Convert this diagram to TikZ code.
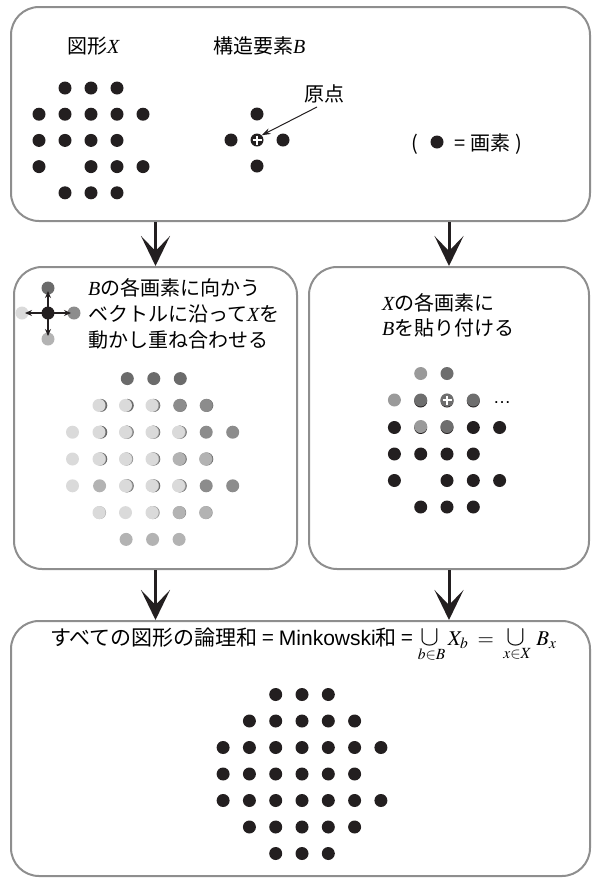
\documentclass[tikz,border=0pt]{standalone}
\usepackage{mathptmx}
\usepackage[no-math]{fontspec}
\setmainfont{Noto Sans CJK JP}
\newfontfamily\tms{Liberation Serif}
\newfontfamily\lsans{Liberation Sans}
\usetikzlibrary{arrows.meta,calc}
\definecolor{boxgray}{HTML}{8E8E8E}
\definecolor{ink}{HTML}{231F20}
\definecolor{gUp}{HTML}{6B6B6B}
\definecolor{gRight}{HTML}{8C8C8C}
\definecolor{gDown}{HTML}{B3B3B3}
\definecolor{gLeft}{HTML}{DADADA}
\definecolor{gA}{HTML}{9A9A9A}
\definecolor{gB}{HTML}{6E6E6E}
\newcommand\itX{{\tms\itshape X}}
\newcommand\itB{{\tms\itshape B}}
\newcommand\bigcupsym{\mathop{\scalebox{1.35}{$\cup$}}\limits}
\begin{document}
\begin{tikzpicture}[x=1pt,y=-1pt,
  panel/.style={draw=boxgray,line width=2pt,rounded corners=28pt,inner sep=0pt},
  bigarrow/.style={line width=3pt,draw=ink,-{Stealth[length=30pt,width=29pt,inset=15pt]}},
  smallarrow/.style={line width=1.2pt,draw=ink,-{Stealth[length=7pt,width=6pt]}},
  txt/.style={font=\fontsize{20}{24}\selectfont,inner sep=0pt,anchor=base west},
  dotn/.style={circle,minimum size=13pt,inner sep=0pt},
  plus/.style={draw=white,line width=1.4pt}]
\useasboundingbox (0,0) rectangle (592,879);

% panels
\node[panel,minimum width=579pt,minimum height=214pt] (top) at (300.5,114) {};
\node[panel,minimum width=283pt,minimum height=302pt] (L) at (155.5,418) {};
\node[panel,minimum width=280pt,minimum height=302pt] (R) at (449,418) {};
\node[panel,minimum width=579pt,minimum height=255pt] (bot) at (300.5,748.5) {};

% big arrows
\draw[bigarrow] (top.south -| L.north) -- (L.north);
\draw[bigarrow] (top.south -| R.north) -- (R.north);
\draw[bigarrow] (L.south) -- (L.south |- bot.north);
\draw[bigarrow] (R.south) -- (R.south |- bot.north);

% ---- top panel ----
\node[txt] (tX) at (67,53) {図形\itX};
\node[txt] (tB) at (213,53) {構造要素\itB};
\foreach \i/\j in {1/0,2/0,3/0,0/1,1/1,2/1,3/1,4/1,0/2,1/2,2/2,3/2,0/3,2/3,3/3,4/3,1/4,2/4,3/4}
  {\fill[ink] ({39+26*\i},{88+26.2*\j}) circle (6.5pt);}
\foreach \p in {(257,114),(231,140),(283,140),(257,166)} {\fill[ink] \p circle (6.5pt);}
\node[dotn,fill=ink] (Bo) at (257,140) {};
\draw[plus] (252.5,140) -- (261.5,140) (257,135.5) -- (257,144.5);
\node[txt] (orig) at (304,101) {原点};
\coordinate (oa) at (317,107);
\draw[line width=1pt,draw=ink,-{Stealth[length=9pt,width=6pt]}] (oa) -- (Bo.north east);
\node[txt] (leg) at (411,150) {(\hspace{37pt}= 画素 )};
\fill[ink] (437,142) circle (6.5pt);

% ---- left middle panel ----
\node[dotn,fill=gUp] (cu) at (48,288) {};
\node[dotn,fill=gLeft] (cl) at (22,313) {};
\node[dotn,fill=gRight] (cr) at (74,313) {};
\node[dotn,fill=gDown] (cd) at (48,339) {};
\node[dotn,fill=ink] (cc) at (48,313) {};
\draw[smallarrow,shorten >=3pt] (cc.center) -- (cu.center);
\draw[smallarrow,shorten >=3pt] (cc.center) -- (cl.center);
\draw[smallarrow,shorten >=3pt] (cc.center) -- (cr.center);
\draw[smallarrow,shorten >=3pt] (cc.center) -- (cd.center);
\node[txt] (l1) at (88,295) {\itB の各画素に向かう};
\node[txt] (l2) at (88,321) {ベクトルに沿って\itX を};
\node[txt] (l3) at (88,347) {動かし重ね合わせる};
\foreach \dx/\dy/\col/\off in {0/-1/gUp/1.8, 1/0/gRight/1.2, 0/1/gDown/0.6, -1/0/gLeft/0}{
  \foreach \i/\j in {1/0,2/0,3/0,0/1,1/1,2/1,3/1,4/1,0/2,1/2,2/2,3/2,0/3,2/3,3/3,4/3,1/4,2/4,3/4}{
    \fill[\col] ({152+26.5*(\i+\dx-2)+\off},{459+26.8*(\j+\dy-2)}) circle (6.5pt);
  }
}

% ---- right middle panel ----
\node[txt] (r1) at (382,310) {\itX の各画素に};
\node[txt] (r2) at (382,335) {\itB を貼り付ける};
\foreach \i/\j in {1/0,2/0,3/0,0/1,1/1,2/1,3/1,4/1,0/2,1/2,2/2,3/2,0/3,2/3,3/3,4/3,1/4,2/4,3/4}
  {\fill[ink] ({447+26.3*(\i-2)},{401+26.5*\j}) circle (6.5pt);}
\foreach \i/\j in {1/-1,0/0,2/0,1/1}
  {\fill[gA] ({447+26.3*(\i-2)},{400+26.5*\j}) circle (6.5pt);}
\foreach \i/\j in {2/-1,1/0,3/0,2/1}
  {\fill[gB] ({447+26.3*(\i-2)},{400+26.5*\j}) circle (6.5pt);}
\node[dotn,fill=gB] (Ro) at (447,400) {};
\draw[plus] (442.5,400) -- (451.5,400) (447,395.5) -- (447,404.5);
\node[txt,font=\lsans\fontsize{18}{20}\selectfont] (dots) at (493,403) {…};

% ---- bottom panel ----
\node[txt,font=\fontsize{21}{25}\selectfont] (f) at (50,645) {すべての図形の論理和 = {\lsans Minkowski}和 = $\bigcupsym_{b\in B} X_b \;=\; \bigcupsym_{x\in X}\, B_x$};
\foreach \r/\cs in {0/{2,3,4},1/{1,2,3,4,5},2/{0,1,2,3,4,5,6},3/{0,1,2,3,4,5},4/{0,1,2,3,4,5,6},5/{1,2,3,4,5},6/{2,3,4}}{
  \foreach \c in \cs {\fill[ink] ({302+26.3*(\c-3)},{774+26.5*(\r-3)}) circle (6.5pt);}
}
\end{tikzpicture}
\end{document}
